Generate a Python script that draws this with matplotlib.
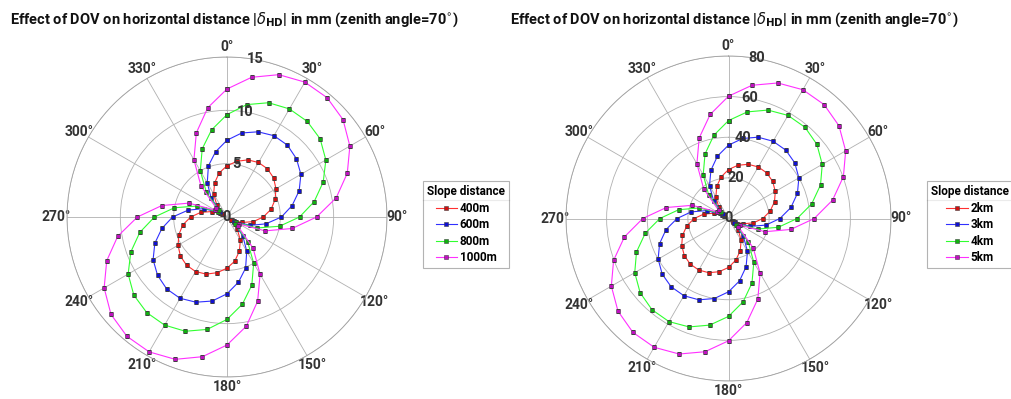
import matplotlib
matplotlib.use('Agg')
import matplotlib.pyplot as plt
from matplotlib.lines import Line2D
import numpy as np

plt.rcParams['font.family'] = ['Roboto', 'DejaVu Sans']
plt.rcParams['mathtext.fontset'] = 'dejavusans'

# azimuth of the line of sight, degrees (markers every 10 deg, loop closed at 360)
azimuth = list(range(0, 361, 10))

# |delta_HD| in mm, left panel (slope distances in metres)
d400 = [4.8, 5.3, 5.7, 5.9, 5.9, 5.7, 5.3, 4.8, 4.2, 3.4, 2.5, 1.5, 0.5, 0.5, 1.5, 2.5, 3.4, 4.2,
        4.8, 5.3, 5.7, 5.9, 5.9, 5.7, 5.3, 4.8, 4.2, 3.4, 2.5, 1.5, 0.5, 0.5, 1.5, 2.5, 3.4, 4.2, 4.8]
d600 = [7.2, 8.0, 8.5, 8.8, 8.8, 8.5, 8.0, 7.2, 6.2, 5.1, 3.7, 2.3, 0.8, 0.8, 2.3, 3.7, 5.1, 6.2,
        7.2, 8.0, 8.5, 8.8, 8.8, 8.5, 8.0, 7.2, 6.2, 5.1, 3.7, 2.3, 0.8, 0.8, 2.3, 3.7, 5.1, 6.2, 7.2]
d800 = [9.6, 10.7, 11.4, 11.7, 11.7, 11.4, 10.7, 9.6, 8.3, 6.8, 5.0, 3.0, 1.0, 1.0, 3.0, 5.0, 6.8, 8.3,
        9.6, 10.7, 11.4, 11.7, 11.7, 11.4, 10.7, 9.6, 8.3, 6.8, 5.0, 3.0, 1.0, 1.0, 3.0, 5.0, 6.8, 8.3, 9.6]
d1000 = [12.0, 13.3, 14.2, 14.6, 14.6, 14.2, 13.3, 12.0, 10.4, 8.4, 6.2, 3.8, 1.3, 1.3, 3.8, 6.2, 8.4, 10.4,
         12.0, 13.3, 14.2, 14.6, 14.6, 14.2, 13.3, 12.0, 10.4, 8.4, 6.2, 3.8, 1.3, 1.3, 3.8, 6.2, 8.4, 10.4, 12.0]

# right panel (slope distances in km)
d2k = [24.1, 26.6, 28.4, 29.3, 29.3, 28.4, 26.6, 24.1, 20.8, 16.9, 12.4, 7.6, 2.6, 2.6, 7.6, 12.4, 16.9, 20.8,
       24.1, 26.6, 28.4, 29.3, 29.3, 28.4, 26.6, 24.1, 20.8, 16.9, 12.4, 7.6, 2.6, 2.6, 7.6, 12.4, 16.9, 20.8, 24.1]
d3k = [36.1, 40.0, 42.6, 43.9, 43.9, 42.6, 40.0, 36.1, 31.2, 25.3, 18.7, 11.4, 3.8, 3.8, 11.4, 18.7, 25.3, 31.2,
       36.1, 40.0, 42.6, 43.9, 43.9, 42.6, 40.0, 36.1, 31.2, 25.3, 18.7, 11.4, 3.8, 3.8, 11.4, 18.7, 25.3, 31.2, 36.1]
d4k = [48.2, 53.3, 56.8, 58.6, 58.6, 56.8, 53.3, 48.2, 41.6, 33.8, 24.9, 15.2, 5.1, 5.1, 15.2, 24.9, 33.8, 41.6,
       48.2, 53.3, 56.8, 58.6, 58.6, 56.8, 53.3, 48.2, 41.6, 33.8, 24.9, 15.2, 5.1, 5.1, 15.2, 24.9, 33.8, 41.6, 48.2]
d5k = [60.2, 66.6, 71.0, 73.2, 73.2, 71.0, 66.6, 60.2, 52.0, 42.2, 31.1, 19.0, 6.4, 6.4, 19.0, 31.1, 42.2, 52.0,
       60.2, 66.6, 71.0, 73.2, 73.2, 71.0, 66.6, 60.2, 52.0, 42.2, 31.1, 19.0, 6.4, 6.4, 19.0, 31.1, 42.2, 52.0, 60.2]

left_series = [d400, d600, d800, d1000]
left_labels = ['400m', '600m', '800m', '1000m']
right_series = [d2k, d3k, d4k, d5k]
right_labels = ['2km', '3km', '4km', '5km']

line_cols = ['#ff3030', '#3030ff', '#30ff30', '#ff30ff']
face_cols = ['#d01010', '#1010d0', '#10b010', '#c010c0']

title = r'Effect of DOV on horizontal distance |$\delta_{\mathbf{HD}}$| in mm (zenith angle=70$^{\circ}$)'

fig = plt.figure(figsize=(10.11, 3.99), dpi=100)
legends = []


def polar_panel(rect, series, labels, rticks, rmax, leg_xy, title_x):
    ax = fig.add_axes(rect, projection='polar')
    ax.set_theta_zero_location('N')
    ax.set_theta_direction(-1)
    th = np.deg2rad(azimuth)
    for vals, lab, lc, fc in zip(series, labels, line_cols, face_cols):
        ax.plot(th, vals, '-', color=lc, lw=0.8, marker='s', markersize=3,
                markerfacecolor=fc, markeredgecolor='#404040', markeredgewidth=0.4, label=lab)
    ax.set_ylim(0, rmax)
    ax.set_rgrids(rticks, [''] * len(rticks))
    for t in rticks:
        ax.text(np.deg2rad(10) if t else 0, t, str(t), ha='center', va='center',
                fontsize=10.5, color='#333333', fontweight='bold')
    ax.set_thetagrids(range(0, 360, 30), [f'{a}\u00b0' for a in range(0, 360, 30)],
                      fontsize=10, color='#333333', fontweight='bold')
    ax.tick_params(axis='x', pad=-3)
    ax.grid(True, color='#b0b0b0', lw=0.6)
    ax.spines['polar'].set_color('#a0a0a0')
    ax.spines['polar'].set_linewidth(0.6)
    leg = fig.legend(handles=ax.get_lines(), title='Slope distance', loc='upper left',
                     bbox_to_anchor=leg_xy, bbox_transform=fig.transFigure,
                     borderaxespad=0, fancybox=False, edgecolor='#a0a0a0',
                     handlelength=1.8, prop={'weight': 'bold', 'size': 8.5},
                     borderpad=0.35, labelspacing=0.3, handletextpad=0.25)
    leg.get_title().set_fontweight('bold')
    leg.get_title().set_fontsize(8.5)
    leg.get_frame().set_linewidth(0.8)
    legends.append(leg)
    fig.text(title_x, 1 - 20 / 399, title, fontsize=10.5, fontweight='bold',
             va='center', ha='left', color='#111111')
    return ax


polar_panel([67 / 1011, 22 / 399, 320 / 1011, 320 / 399], left_series, left_labels,
            [0, 5, 10, 15], 15, (423 / 1011, 1 - 181 / 399), 10 / 1011)
polar_panel([566 / 1011, 18 / 399, 325 / 1011, 325 / 399], right_series, right_labels,
            [0, 20, 40, 60, 80], 80, (927 / 1011, 1 - 181 / 399), 510 / 1011)

# separator line under each legend title
fig.canvas.draw()
inv = fig.transFigure.inverted()
for leg in legends:
    box = leg.get_frame().get_window_extent()
    tb = leg.get_title().get_window_extent()
    y = tb.y0 - 2
    x0, yy = inv.transform((box.x0, y))
    x1, _ = inv.transform((box.x1, y))
    fig.add_artist(Line2D([x0, x1], [yy, yy], transform=fig.transFigure,
                          color='#a0a0a0', lw=0.8))

fig.savefig('out.png', dpi=100)
